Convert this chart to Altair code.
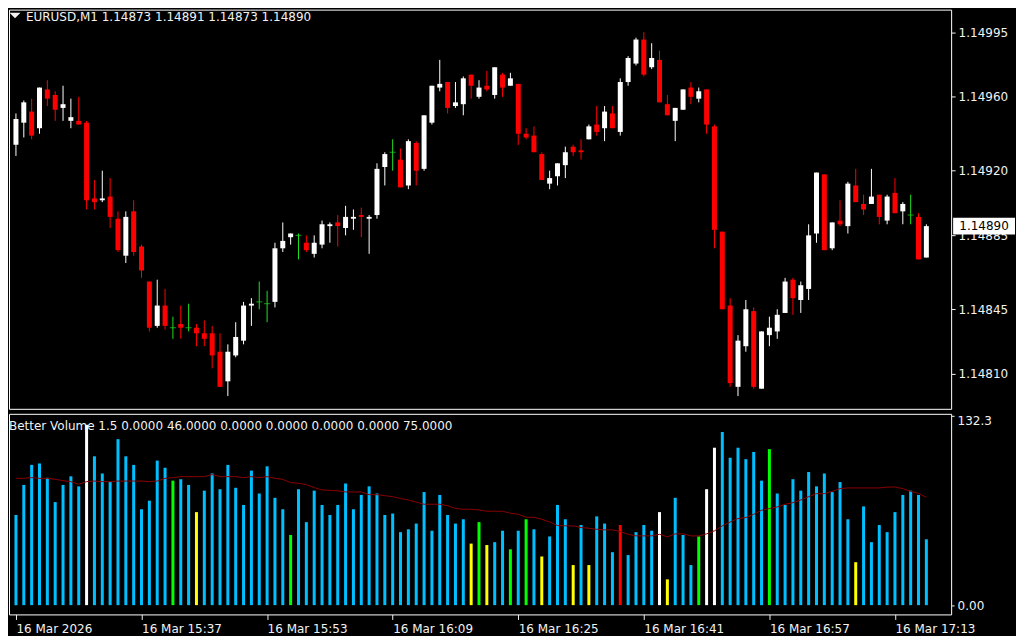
import altair as alt
import pandas as pd

# ---------------- data ----------------
title_text = "EURUSD,M1  1.14873 1.14891 1.14873 1.14890"
vol_title_text = "Better Volume 1.5 0.0000 46.0000 0.0000 0.0000 0.0000 0.0000 75.0000"

opens = [1.14934, 1.14946, 1.14952, 1.14943, 1.14964, 1.14961, 1.14954, 1.14947, 1.14947, 1.14946,
         1.14905, 1.14904, 1.14906, 1.14894, 1.14874, 1.14898, 1.14879, 1.14860, 1.14836, 1.14847,
         1.14835, 1.14837, 1.14835, 1.14835, 1.14832, 1.14832, 1.14822, 1.14806, 1.14820, 1.14828,
         1.14847, 1.14849, 1.14848, 1.14849, 1.14878, 1.14884, 1.14885, 1.14881, 1.14875, 1.14880,
         1.14890, 1.14892, 1.14889, 1.14894, 1.14896, 1.14894, 1.14896, 1.14922, 1.14930, 1.14926,
         1.14912, 1.14935, 1.14921, 1.14946, 1.14965, 1.14968, 1.14955, 1.14956, 1.14972, 1.14960,
         1.14966, 1.14961, 1.14972, 1.14966, 1.14967, 1.14940, 1.14939, 1.14929, 1.14913, 1.14917,
         1.14923, 1.14933, 1.14931, 1.14937, 1.14945, 1.14943, 1.14951, 1.14941, 1.14968, 1.14978,
         1.14991, 1.14976, 1.14980, 1.14956, 1.14947, 1.14953, 1.14965, 1.14959, 1.14964, 1.14944,
         1.14887, 1.14847, 1.14803, 1.14825, 1.14844, 1.14802, 1.14831, 1.14833, 1.14843, 1.14861,
         1.14850, 1.14856, 1.14886, 1.14918, 1.14878, 1.14893, 1.14890, 1.14912, 1.14902, 1.14902,
         1.14907, 1.14893, 1.14908, 1.14898, 1.14896, 1.14895, 1.14873]
highs = [1.14951, 1.14958, 1.14959, 1.14965, 1.14969, 1.14963, 1.14966, 1.14959, 1.14960, 1.14947,
         1.14915, 1.14920, 1.14916, 1.14898, 1.14898, 1.14904, 1.14880, 1.14860, 1.14861, 1.14856,
         1.14841, 1.14847, 1.14848, 1.14837, 1.14839, 1.14836, 1.14832, 1.14826, 1.14838, 1.14849,
         1.14851, 1.14860, 1.14855, 1.14881, 1.14892, 1.14886, 1.14886, 1.14885, 1.14885, 1.14893,
         1.14892, 1.14896, 1.14901, 1.14899, 1.14900, 1.14896, 1.14924, 1.14930, 1.14937, 1.14932,
         1.14937, 1.14936, 1.14950, 1.14966, 1.14980, 1.14968, 1.14968, 1.14971, 1.14972, 1.14969,
         1.14974, 1.14976, 1.14973, 1.14973, 1.14967, 1.14943, 1.14944, 1.14930, 1.14920, 1.14924,
         1.14933, 1.14934, 1.14937, 1.14945, 1.14955, 1.14955, 1.14955, 1.14970, 1.14982, 1.14992,
         1.14995, 1.14989, 1.14985, 1.14961, 1.14954, 1.14964, 1.14968, 1.14965, 1.14964, 1.14945,
         1.14887, 1.14851, 1.14831, 1.14850, 1.14846, 1.14833, 1.14841, 1.14845, 1.14862, 1.14862,
         1.14860, 1.14891, 1.14919, 1.14918, 1.14892, 1.14904, 1.14914, 1.14921, 1.14907, 1.14921,
         1.14907, 1.14907, 1.14916, 1.14903, 1.14907, 1.14897, 1.14891]
lows = [1.14928, 1.14938, 1.14937, 1.14940, 1.14955, 1.14947, 1.14947, 1.14943, 1.14945, 1.14899,
        1.14899, 1.14903, 1.14889, 1.14876, 1.14870, 1.14874, 1.14862, 1.14833, 1.14835, 1.14834,
        1.14829, 1.14829, 1.14833, 1.14825, 1.14825, 1.14813, 1.14803, 1.14798, 1.14819, 1.14826,
        1.14836, 1.14845, 1.14838, 1.14846, 1.14876, 1.14880, 1.14872, 1.14876, 1.14873, 1.14878,
        1.14881, 1.14879, 1.14885, 1.14888, 1.14884, 1.14875, 1.14894, 1.14912, 1.14920, 1.14911,
        1.14910, 1.14912, 1.14920, 1.14945, 1.14963, 1.14951, 1.14954, 1.14950, 1.14959, 1.14959,
        1.14963, 1.14959, 1.14960, 1.14966, 1.14934, 1.14937, 1.14930, 1.14915, 1.14910, 1.14912,
        1.14916, 1.14928, 1.14926, 1.14937, 1.14939, 1.14936, 1.14943, 1.14939, 1.14966, 1.14977,
        1.14971, 1.14975, 1.14957, 1.14950, 1.14936, 1.14953, 1.14956, 1.14957, 1.14940, 1.14878,
        1.14845, 1.14803, 1.14798, 1.14822, 1.14802, 1.14802, 1.14825, 1.14829, 1.14843, 1.14842,
        1.14843, 1.14850, 1.14881, 1.14877, 1.14877, 1.14890, 1.14886, 1.14903, 1.14896, 1.14902,
        1.14891, 1.14891, 1.14897, 1.14891, 1.14891, 1.14872, 1.14873]
closes = [1.14948, 1.14957, 1.14939, 1.14965, 1.14959, 1.14953, 1.14956, 1.14949, 1.14945, 1.14904,
          1.14903, 1.14905, 1.14895, 1.14877, 1.14895, 1.14876, 1.14866, 1.14835, 1.14847, 1.14836,
          1.14835, 1.14835, 1.14835, 1.14832, 1.14829, 1.14820, 1.14803, 1.14822, 1.14830, 1.14847,
          1.14848, 1.14849, 1.14848, 1.14878, 1.14882, 1.14886, 1.14885, 1.14877, 1.14881, 1.14891,
          1.14891, 1.14890, 1.14895, 1.14895, 1.14895, 1.14895, 1.14921, 1.14929, 1.14930, 1.14911,
          1.14936, 1.14920, 1.14950, 1.14966, 1.14967, 1.14954, 1.14957, 1.14970, 1.14966, 1.14965,
          1.14964, 1.14976, 1.14965, 1.14970, 1.14940, 1.14938, 1.14930, 1.14915, 1.14916, 1.14924,
          1.14930, 1.14930, 1.14930, 1.14944, 1.14941, 1.14952, 1.14943, 1.14968, 1.14981, 1.14991,
          1.14972, 1.14981, 1.14957, 1.14950, 1.14954, 1.14964, 1.14960, 1.14963, 1.14945, 1.14888,
          1.14845, 1.14805, 1.14828, 1.14845, 1.14803, 1.14833, 1.14835, 1.14842, 1.14860, 1.14851,
          1.14858, 1.14885, 1.14919, 1.14877, 1.14892, 1.14891, 1.14913, 1.14903, 1.14899, 1.14906,
          1.14895, 1.14906, 1.14897, 1.14902, 1.14896, 1.14872, 1.14890]

volumes = [63, 84, 98, 99, 89, 72, 84, 90, 83, 126, 104, 92, 86, 116, 104, 98, 67, 73, 101, 96,
           87, 88, 84, 65, 80, 92, 81, 98, 82, 70, 94, 78, 97, 75, 67, 49, 81, 58, 80, 70,
           63, 70, 85, 67, 77, 83, 78, 63, 64, 51, 53, 57, 79, 52, 77, 63, 57, 60, 43, 58,
           42, 44, 52, 39, 52, 60, 53, 34, 48, 70, 60, 28, 56, 28, 62, 57, 37, 56, 35, 51,
           56, 52, 65, 18, 75, 49, 28, 48, 81, 110, 121, 103, 110, 102, 107, 87, 109, 78, 70, 88,
           80, 93, 83, 92, 79, 86, 60, 30, 69, 44, 56, 51, 65, 77, 80, 77, 46]
vol_codes = ["B", "B", "B", "B", "B", "B", "B", "B", "B", "W", "B", "B", "B", "B", "B", "B", "B", "B", "B", "B",
             "G", "B", "B", "Y", "B", "B", "B", "B", "B", "B", "B", "B", "B", "B", "B", "G", "B", "B", "B", "B",
             "B", "B", "B", "B", "B", "B", "B", "B", "B", "B", "B", "B", "B", "B", "B", "B", "B", "B", "Y", "G",
             "Y", "B", "B", "G", "B", "G", "B", "Y", "B", "B", "B", "Y", "B", "Y", "B", "B", "B", "R", "B", "B",
             "B", "B", "W", "Y", "B", "B", "B", "G", "W", "W", "B", "B", "B", "B", "B", "B", "G", "B", "B", "B",
             "B", "B", "B", "B", "B", "B", "B", "Y", "B", "B", "B", "B", "B", "B", "B", "B", "B"]
vol_ma = [88.6, 88.6, 89.1, 88.6, 88.6, 87.9, 87.0, 86.3, 84.5, 86.3, 86.7, 86.3, 86.3, 86.7, 86.7, 86.7, 86.7, 86.3, 86.7, 88.6,
          89.1, 89.8, 89.8, 89.8, 89.8, 91.2, 89.8, 89.8, 89.8, 89.1, 89.8, 89.1, 89.8, 88.6, 87.9, 85.6, 85.2, 84.2, 82.1, 80.5,
          80.2, 79.9, 79.1, 79.1, 79.1, 77.2, 77.2, 76.5, 75.8, 74.5, 73.5, 72.0, 70.5, 70.5, 70.5, 69.5, 67.5, 67.0, 67.0, 66.5,
          65.6, 65.6, 65.6, 64.2, 63.5, 61.4, 61.4, 60.0, 58.1, 55.6, 55.4, 55.4, 54.2, 53.7, 53.0, 52.6, 52.6, 51.4, 49.5, 48.4,
          48.4, 48.4, 49.5, 47.7, 49.8, 49.8, 48.4, 48.4, 49.8, 51.9, 55.4, 58.1, 60.5, 61.2, 63.5, 66.3, 67.5, 68.6, 70.5, 71.6,
          73.5, 75.8, 77.9, 77.9, 79.5, 81.4, 81.9, 81.9, 81.9, 81.9, 81.9, 82.5, 82.5, 81.4, 79.5, 78.1, 75.3]

price_ticks = [1.14810, 1.14845, 1.14885, 1.14920, 1.14960, 1.14995]
vol_ticks = [0, 132.3]
vol_tick_labels = ["0.00", "132.3"]
time_ticks = [0, 16, 32, 48, 64, 80, 96, 112]
time_labels = ["16 Mar 2026", "16 Mar 15:37", "16 Mar 15:53", "16 Mar 16:09",
               "16 Mar 16:25", "16 Mar 16:41", "16 Mar 16:57", "16 Mar 17:13"]

# ---------------- tables ----------------
n = len(opens)
bars = list(range(n))
df = pd.DataFrame({"bar": bars, "open": opens, "high": highs, "low": lows, "close": closes})
df["dir"] = ["up" if c > o else ("down" if c < o else "doji") for o, c in zip(opens, closes)]
dfv = pd.DataFrame({"bar": bars, "vol": volumes, "code": vol_codes, "ma": vol_ma})
cur = pd.DataFrame({"price": [closes[-1]], "label": [f"{closes[-1]:.5f}"]})

FONT = "DejaVu Sans"
TXT = "#f2f2f2"

xs = alt.Scale(domain=[-0.25, 118.52], nice=False, zero=False)
ys = alt.Scale(domain=[1.147911, 1.150072], nice=False, zero=False)
vs = alt.Scale(domain=[-6.49, 133.69], nice=False, zero=False)

price_axis = alt.Axis(orient="right", values=price_ticks, format=".5f", title=None, grid=False,
                      domain=False, tickColor=TXT, tickSize=4, labelColor=TXT, labelFont=FONT,
                      labelFontSize=12, labelPadding=3, labelOverlap=False, labelFlush=False)

x_main = alt.X("bar:Q", scale=xs, axis=None)

cmap = alt.Color("dir:N", legend=None,
                 scale=alt.Scale(domain=["up", "down", "doji"], range=["#ffffff", "#ff0000", "#1ee01e"]))

wicks = alt.Chart(df).mark_rule(strokeWidth=1).encode(
    x=x_main, y=alt.Y("low:Q", scale=ys, axis=price_axis), y2="high:Q", color=cmap)
bodies = alt.Chart(df[df["dir"] != "doji"]).mark_bar(width=5).encode(
    x=x_main, y=alt.Y("open:Q", scale=ys, axis=price_axis), y2="close:Q", color=cmap)
dojis = alt.Chart(df[df["dir"] == "doji"]).mark_tick(orient="horizontal", size=6, thickness=1).encode(
    x=x_main, y=alt.Y("open:Q", scale=ys, axis=price_axis), color=cmap)

box_path = "M-1,-0.274L1,-0.274L1,0.274L-1,0.274Z"
price_box = alt.Chart(cur).mark_point(shape=box_path, size=3844, filled=True, fill="#ffffff",
                                      stroke=None, opacity=1).encode(
    x=alt.value(977), y=alt.Y("price:Q", scale=ys, axis=price_axis))
price_txt = alt.Chart(cur).mark_text(color="#000000", font=FONT, fontSize=12, align="center",
                                     baseline="middle").encode(
    x=alt.value(977), y=alt.Y("price:Q", scale=ys, axis=price_axis), text="label:N")

tri = alt.Chart(pd.DataFrame({"t": [title_text]})).mark_point(
    shape="M-1,-0.5L1,-0.5L0,0.5Z", size=121, filled=True, fill=TXT, stroke=None, opacity=1).encode(
    x=alt.value(6), y=alt.value(6))
title_mark = alt.Chart(pd.DataFrame({"t": [title_text]})).mark_text(
    color=TXT, font=FONT, fontSize=12, align="left", baseline="middle").encode(
    x=alt.value(17), y=alt.value(7), text="t:N")

main = alt.layer(wicks, bodies, dojis, price_box, price_txt, tri, title_mark).properties(width=944, height=400)

# ---------------- volume panel ----------------
lab_expr = " : ".join(f"datum.value == {t} ? '{l}'" for t, l in zip(time_ticks, time_labels)) + " : ''"
x_axis = alt.Axis(values=time_ticks, labelExpr=lab_expr, title=None, grid=False, domain=False,
                  tickColor=TXT, tickSize=5, labelColor=TXT, labelFont=FONT, labelFontSize=12,
                  labelAlign="left", labelBaseline="top", labelPadding=4, labelFlush=False,
                  labelOverlap=False, labelBound=False)
x_vol = alt.X("bar:Q", scale=xs, axis=x_axis)

vlab_expr = " : ".join(f"datum.value == {t} ? '{l}'" for t, l in zip(vol_ticks, vol_tick_labels)) + " : ''"
vol_axis = alt.Axis(orient="right", values=vol_ticks, labelExpr=vlab_expr, title=None, grid=False,
                    domain=False, tickColor=TXT, tickSize=3, labelColor=TXT, labelFont=FONT,
                    labelFontSize=12, labelPadding=3, labelOverlap=False, labelFlush=False,
                    labelBaseline={"condition": {"test": "datum.value > 1", "value": "top"}, "value": "middle"})

vcol = alt.Color("code:N", legend=None,
                 scale=alt.Scale(domain=["B", "W", "G", "Y", "R"],
                                 range=["#00bfff", "#ffffff", "#00ff00", "#ffff00", "#ff0000"]))
vbars = alt.Chart(dfv).mark_bar(width=3).encode(
    x=x_vol, y=alt.Y("vol:Q", scale=vs, axis=vol_axis, stack=None), y2=alt.datum(0), color=vcol)
vline = alt.Chart(dfv).mark_line(color="#8b0000", strokeWidth=1).encode(
    x=x_vol, y=alt.Y("ma:Q", scale=vs, axis=vol_axis))
vtitle = alt.Chart(pd.DataFrame({"t": [vol_title_text]})).mark_text(
    color=TXT, font=FONT, fontSize=12, align="left", baseline="middle").encode(
    x=alt.value(0), y=alt.value(12), text="t:N")

volume = alt.layer(vbars, vline, vtitle).properties(width=944, height=201)

chart = alt.vconcat(main, volume, spacing=3).resolve_scale(color="independent").properties(
    padding=0, background="#000000"
).configure_view(stroke="#ffffff", strokeWidth=1, fill="#000000")

chart.save("out.html", embed_options={"renderer": "svg", "actions": False})
